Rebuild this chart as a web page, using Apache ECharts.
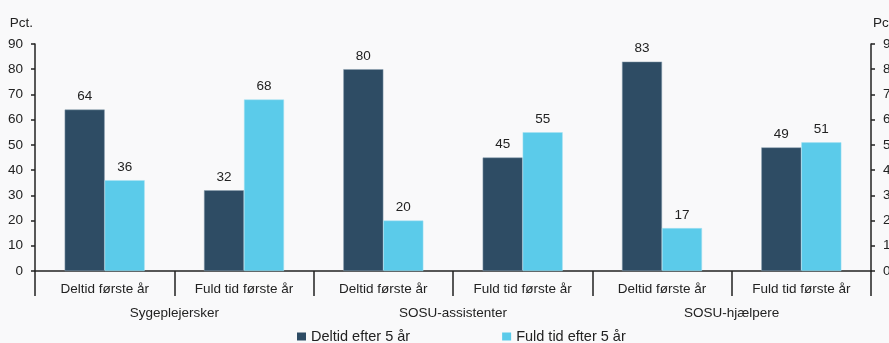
<!DOCTYPE html>
<html>
<head>
<meta charset="utf-8">
<script src="https://cdn.jsdelivr.net/npm/echarts@6/dist/echarts.min.js"></script>
<style>
html,body{margin:0;padding:0;background:#f9f9fa;}
#c{width:889px;height:343px;}
</style>
</head>
<body>
<div id="c"></div>
<script>
var categories = ['Deltid første år','Fuld tid første år','Deltid første år','Fuld tid første år','Deltid første år','Fuld tid første år'];
var groups = ['Sygeplejersker','SOSU-assistenter','SOSU-hjælpere'];
var deltidEfter5 = [64, 32, 80, 45, 83, 49];
var fuldtidEfter5 = [36, 68, 20, 55, 17, 51];
var seriesNames = ['Deltid efter 5 år','Fuld tid efter 5 år'];

var font = 'Liberation Sans, Arial, sans-serif';
var fs = 13.5;
var txt = '#222';
var chart = echarts.init(document.getElementById('c'));
var labelStyle = {show:true, position:'top', distance:6, color:txt, fontSize:fs, fontFamily:font};
chart.setOption({
  backgroundColor:'#f9f9fa',
  animation:false,
  grid:{left:35, right:18, top:44, bottom:72, containLabel:false, outerBoundsMode:'none'},
  legend:{
    data:seriesNames, left:297, top:329, itemWidth:9, itemHeight:8, itemGap:92,
    icon:'rect', padding:0,
    itemStyle:{borderWidth:0},
    textStyle:{color:txt, fontSize:14.5, fontFamily:font}
  },
  xAxis:[
    {type:'category', data:categories, position:'bottom',
     axisLine:{lineStyle:{color:'#222', width:1.5}},
     axisTick:{show:true, interval:0, length:25, lineStyle:{color:'#222', width:1.5}},
     axisLabel:{interval:0, color:txt, fontSize:fs, fontFamily:font, margin:11}},
    {type:'category', data:groups, position:'bottom', offset:25,
     axisLine:{show:false},
     axisTick:{show:true, interval:0, length:24, lineStyle:{color:'#222', width:1.5}},
     axisLabel:{interval:0, color:txt, fontSize:fs, fontFamily:font, margin:10}}
  ],
  yAxis:[
    {type:'value', min:0, max:90, interval:10, position:'left',
     name:'Pct.', nameLocation:'end', nameGap:14,
     nameTextStyle:{color:txt, fontSize:fs, fontFamily:font, align:'right', padding:[0,2,0,0]},
     axisLine:{show:true, lineStyle:{color:'#222', width:1.5}},
     axisTick:{show:true, length:4, lineStyle:{color:'#222', width:1.5}},
     axisLabel:{color:txt, fontSize:fs, fontFamily:font, margin:12},
     splitLine:{show:false}},
    {type:'value', min:0, max:90, interval:10, position:'right',
     name:'Pct.', nameLocation:'end', nameGap:14,
     nameTextStyle:{color:txt, fontSize:fs, fontFamily:font, align:'left', padding:[0,0,0,2]},
     axisLine:{show:true, lineStyle:{color:'#222', width:1.5}},
     axisTick:{show:true, length:4, lineStyle:{color:'#222', width:1.5}},
     axisLabel:{color:txt, fontSize:fs, fontFamily:font, margin:12},
     splitLine:{show:false}}
  ],
  series:[
    {name:seriesNames[0], type:'bar', xAxisIndex:0, yAxisIndex:0, data:deltidEfter5,
     barWidth:40, barGap:'0%',
     itemStyle:{color:'#2e4c64', borderColor:'#8aa0b0', borderWidth:0.5},
     label:labelStyle},
    {name:seriesNames[1], type:'bar', xAxisIndex:0, yAxisIndex:0, data:fuldtidEfter5,
     barWidth:40, barGap:'0%',
     itemStyle:{color:'#5bcbea', borderColor:'#a8e2f3', borderWidth:0.5},
     label:labelStyle}
  ]
});
</script>
</body>
</html>
